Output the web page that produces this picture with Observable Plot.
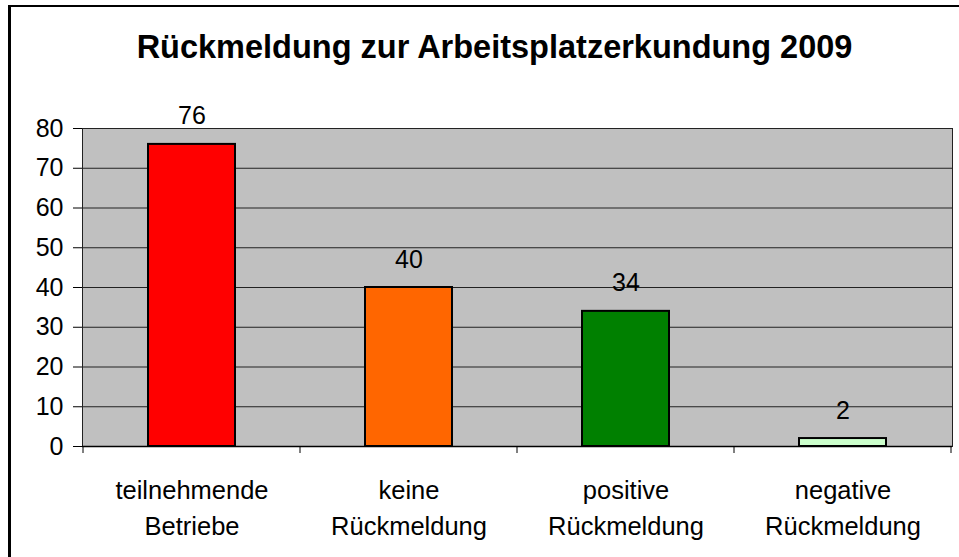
<!DOCTYPE html>
<html><head><meta charset="utf-8">
<script src="https://cdn.jsdelivr.net/npm/d3@7"></script>
<script src="https://cdn.jsdelivr.net/npm/@observablehq/plot@0.6"></script>
<style>
body{margin:0;background:#fff;overflow:hidden}
#wrap{position:relative;width:959px;height:557px;overflow:hidden}
#wrap svg{position:absolute;left:0;top:0}
#border{position:absolute;left:8px;top:5px;width:2000px;height:2000px;border-top:2px solid #000;border-left:3px solid #000;pointer-events:none}
</style></head><body><div id="wrap"></div>
<script>
const title = "Rückmeldung zur Arbeitsplatzerkundung 2009";
const categories = ["teilnehmende\nBetriebe", "keine\nRückmeldung", "positive\nRückmeldung", "negative\nRückmeldung"];
const values = [76, 40, 34, 2];
const colors = ["#FF0000", "#FF6600", "#008000", "#CCFFCC"];
const yTicks = [0, 10, 20, 30, 40, 50, 60, 70, 80];

const data = categories.map((c, i) => ({category: c, value: values[i], color: colors[i]}));
const font = "'Liberation Sans', Arial, Helvetica, sans-serif";

function categoryTicks(index, scales) {
  const x = scales.x;
  const dom = x.domain();
  const bw = typeof x.bandwidth === "function" ? x.bandwidth() : x.bandwidth;
  const step = typeof x.step === "function" ? x.step() : x.step;
  const half = (step - bw) / 2;
  const y0 = scales.y(0);
  const xs = dom.map(d => x(d) - half).concat([x(dom[dom.length - 1]) + bw + half]);
  const g = d3.create("svg:g");
  g.selectAll("line").data(xs).join("line")
    .attr("x1", d => d).attr("x2", d => d)
    .attr("y1", y0).attr("y2", y0 + 7)
    .attr("stroke", "#000").attr("stroke-width", 1);
  return g.node();
}

const chart = Plot.plot({
  width: 959,
  height: 557,
  marginTop: 128,
  marginRight: 7,
  marginBottom: 111,
  marginLeft: 82,
  style: {background: "transparent", fontFamily: font, color: "#000"},
  x: {domain: categories, paddingInner: 0.6, paddingOuter: 0.3, align: 0.5, axis: null},
  y: {domain: [0, 80], axis: null},
  marks: [
    Plot.frame({fill: "#C0C0C0", stroke: null}),
    Plot.gridY(yTicks, {stroke: "#222", strokeOpacity: 1, strokeWidth: 1}),
    Plot.frame({stroke: "#222", fill: null}),
    Plot.ruleY([0], {stroke: "#000", strokeWidth: 1.5}),
    Plot.barY(data, {x: "category", y: "value", fill: "color", stroke: "#000", strokeWidth: 2}),
    Plot.text(data, {x: "category", y: "value", text: d => String(d.value), dy: -28, fontSize: 25, lineAnchor: "middle", fill: "#000"}),
    Plot.axisY(yTicks, {tickSize: 9, tickPadding: 10, fontSize: 25, label: null, stroke: "#000", fill: "#000"}),
    Plot.text(data, {x: "category", text: "category", frameAnchor: "bottom", lineAnchor: "top", dy: 28, lineHeight: 1.38, fontSize: 25.5, fill: "#000"}),
    categoryTicks,
    Plot.text([title], {frameAnchor: "top", dy: -81, dx: -23, fontSize: 32.5, fontWeight: "bold", lineAnchor: "middle", fill: "#000"})
  ]
});

const wrap = document.getElementById("wrap");
wrap.appendChild(chart);
const b = document.createElement("div");
b.id = "border";
wrap.appendChild(b);
</script>
</body></html>
